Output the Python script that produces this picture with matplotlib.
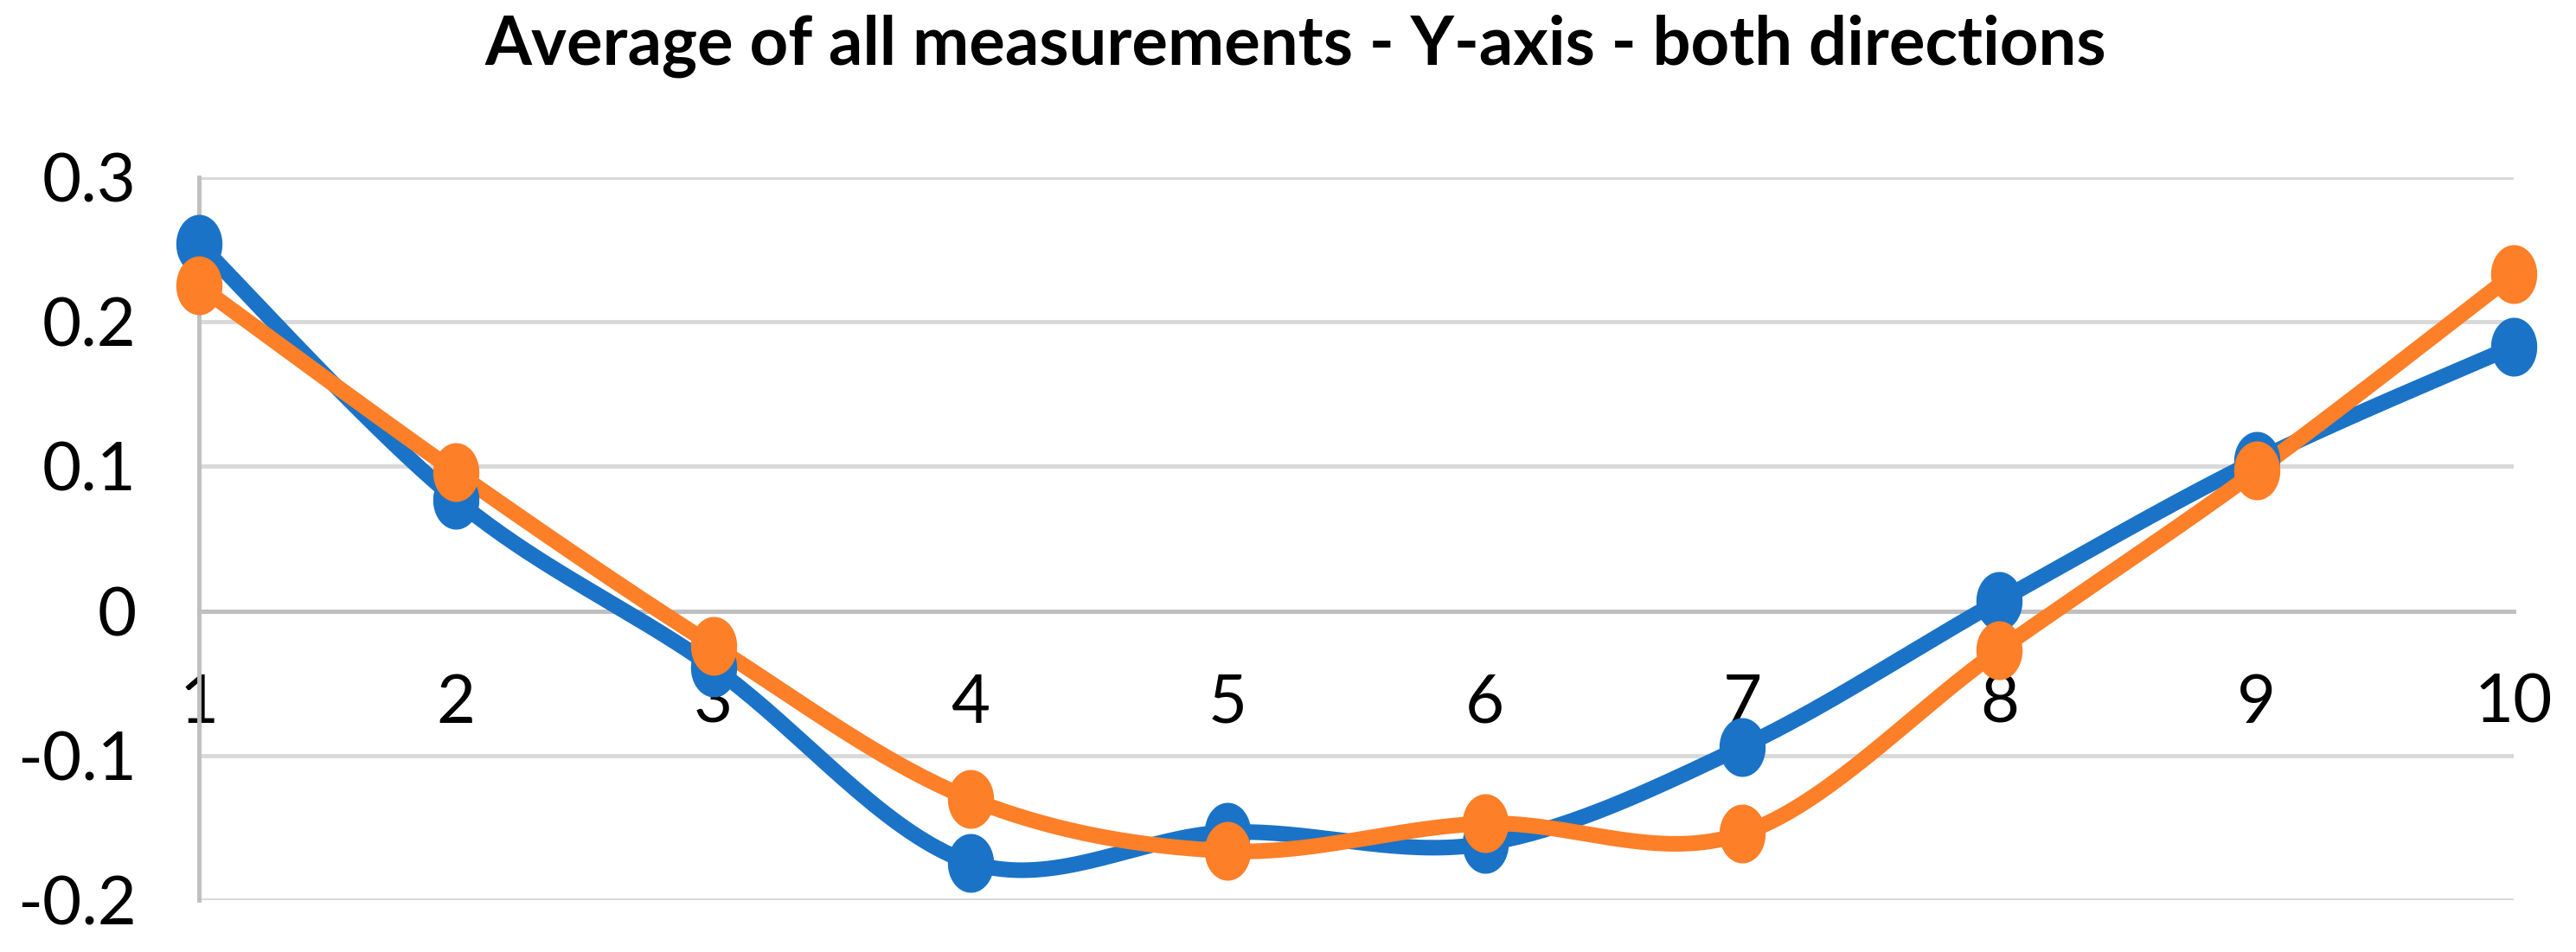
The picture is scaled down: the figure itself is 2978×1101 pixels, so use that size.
import numpy as np
import matplotlib
matplotlib.use("Agg")
from matplotlib import pyplot as plt
from matplotlib.path import Path

# data
x = [1, 2, 3, 4, 5, 6, 7, 8, 9, 10]
blue = [0.254, 0.077, -0.039, -0.174, -0.153, -0.161, -0.094, 0.007, 0.104, 0.183]
orange = [0.225, 0.096, -0.024, -0.130, -0.166, -0.147, -0.154, -0.027, 0.097, 0.233]
title = "Average of all measurements - Y-axis - both directions"

blue_c = "#1A73C6"
orange_c = "#FD7F28"

plt.rcParams['font.family'] = ['Lato', 'DejaVu Sans']


def smooth(xs, ys, n=40):
    # bezier smoothing like excel (catmull-rom style control points)
    p = np.column_stack([xs, ys]).astype(float)
    p = np.vstack([p[0], p, p[-1]])
    out = []
    for i in range(1, len(p) - 2):
        p0, p1, p2, p3 = p[i - 1], p[i], p[i + 1], p[i + 2]
        c1 = p1 + (p2 - p0) / 6
        c2 = p2 - (p3 - p1) / 6
        t = np.linspace(0, 1, n)[:, None]
        seg = ((1 - t) ** 3) * p1 + 3 * ((1 - t) ** 2) * t * c1 + 3 * (1 - t) * t ** 2 * c2 + t ** 3 * p2
        out.append(seg)
    out = np.vstack(out)
    return out[:, 0], out[:, 1]


# elliptical marker (the original is squeezed horizontally)
th = np.linspace(0, 2 * np.pi, 60)
ell = Path(np.column_stack([0.78 * np.cos(th), np.sin(th)]), closed=True)

fig = plt.figure(figsize=(29.78, 11.01), dpi=100)
ax = fig.add_axes([0.0772, 0.0545, 0.8986, 0.7593])

for ys, c in [(blue, blue_c), (orange, orange_c)]:
    sx, sy = smooth(x, ys)
    ax.plot(sx, sy, color=c, lw=13, solid_capstyle='round', clip_on=False, zorder=3)
    ax.plot(x, ys, ls='none', marker=ell, ms=48, color=c, mec=c, clip_on=False, zorder=4)

ax.set_xlim(1, 10)
ax.set_ylim(-0.2, 0.3)
ax.set_yticks([-0.2, -0.1, 0, 0.1, 0.2, 0.3])
ax.set_yticklabels(["-0.2", "-0.1", "0", "0.1", "0.2", "0.3"])
ax.set_xticks(x)
ax.set_xticklabels([str(v) for v in x])
ax.grid(axis='y', color='#D9D9D9', lw=3.5)
ax.set_axisbelow(True)

for s in ['top', 'right']:
    ax.spines[s].set_visible(False)
ax.spines['bottom'].set_position(('data', 0))
ax.spines['bottom'].set_color('#BFBFBF')
ax.spines['bottom'].set_linewidth(3.5)
ax.spines['left'].set_color('#BFBFBF')
ax.spines['left'].set_linewidth(3.5)
ax.tick_params(axis='both', length=0, labelsize=56, colors='black')
ax.tick_params(axis='y', pad=52)
ax.tick_params(axis='x', pad=52)

fig.text(0.503, 0.952, title, ha='center', va='center', fontsize=56, fontweight='bold')

fig.savefig("out.png", dpi=100)
